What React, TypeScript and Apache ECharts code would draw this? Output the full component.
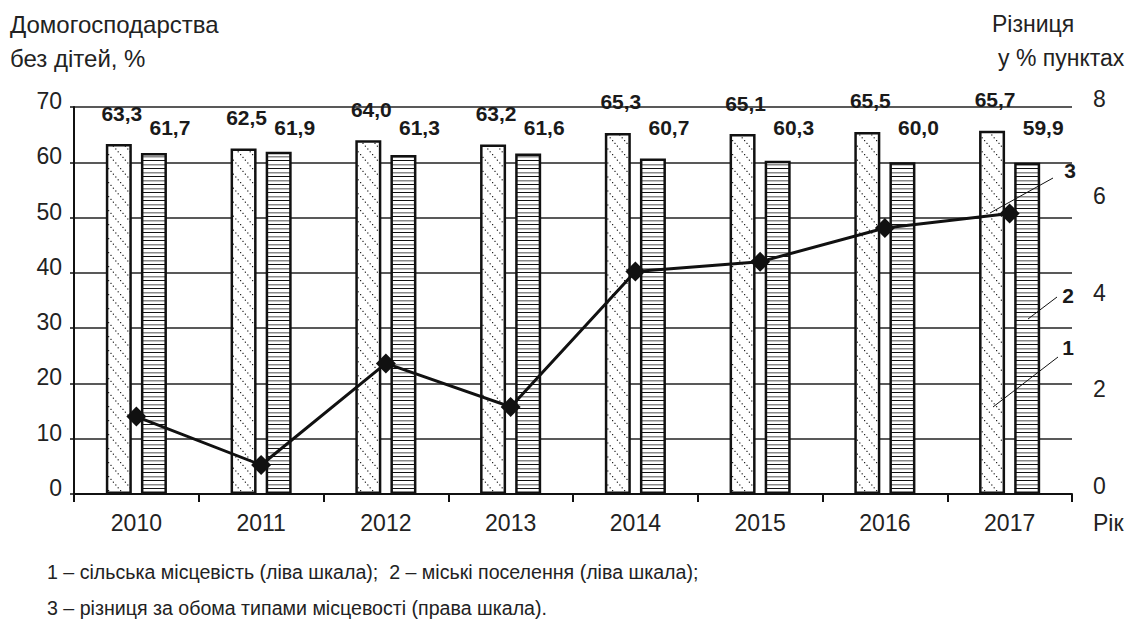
import React, { useEffect, useRef } from 'react';
import * as echarts from 'echarts';

const years = ['2010', '2011', '2012', '2013', '2014', '2015', '2016', '2017'];
const rural = [63.3, 62.5, 64.0, 63.2, 65.3, 65.1, 65.5, 65.7];
const urban = [61.7, 61.9, 61.3, 61.6, 60.7, 60.3, 60.0, 59.9];
const difference = [1.6, 0.6, 2.7, 1.8, 4.6, 4.8, 5.5, 5.8];

const titleLeft = ['Домогосподарства', 'без дітей, %'];
const titleRight = ['Різниця', 'у % пунктах'];
const xAxisName = 'Рік';
const footnote1 = '1 – сільська місцевість (ліва шкала);  2 – міські поселення (ліва шкала);';
const footnote2 = '3 – різниця за обома типами місцевості (права шкала).';

const FONT = '"Liberation Sans", Arial, sans-serif';

function makeDiagPattern(): HTMLCanvasElement {
  const w = 12;
  const h = 14;
  const c = document.createElement('canvas');
  c.width = w;
  c.height = h;
  const ctx = c.getContext('2d')!;
  ctx.fillStyle = '#fff';
  ctx.fillRect(0, 0, w, h);
  ctx.fillStyle = '#222';
  const n = 5;
  for (let k = 0; k < n; k++) ctx.fillRect((k * w) / n, (k * h) / n, 1.2, 1.2);
  return c;
}

function makeHorizPattern(): HTMLCanvasElement {
  const c = document.createElement('canvas');
  c.width = 8;
  c.height = 8;
  const ctx = c.getContext('2d')!;
  ctx.fillStyle = '#fff';
  ctx.fillRect(0, 0, 8, 8);
  ctx.fillStyle = '#111';
  ctx.fillRect(0, 0, 8, 1);
  ctx.fillStyle = '#8a8a8a';
  ctx.fillRect(0, 4, 8, 1.5);
  return c;
}

const fmt = (p: any) => Number(p.value).toFixed(1).replace('.', ',');

export default function App() {
  const ref = useRef<HTMLDivElement>(null);
  useEffect(() => {
    if (!ref.current) return;
    const chart = echarts.init(ref.current, null, { renderer: 'svg' });
    const diag = makeDiagPattern();
    const horiz = makeHorizPattern();
    const labelBase = {
      show: true,
      position: 'top',
      distance: 0,
      verticalAlign: 'middle',
      formatter: fmt,
      fontFamily: FONT,
      fontWeight: 'bold',
      fontSize: 21,
      color: '#1a1a1a',
    };
    const textStyle = (s: string, x: number, y: number, extra: any = {}) => ({
      type: 'text',
      x,
      y,
      z: 100,
      style: {
        text: s,
        fontFamily: FONT,
        fontSize: 23,
        fill: '#222',
        verticalAlign: 'middle',
        ...extra,
      },
    });
    const leader = (x1: number, y1: number, x2: number, y2: number) => ({
      type: 'line',
      z: 100,
      shape: { x1, y1, x2, y2 },
      style: { stroke: '#111', lineWidth: 1 },
    });
    chart.setOption({
      animation: false,
      backgroundColor: '#fff',
      grid: { left: 74, top: 107, width: 998, height: 387, containLabel: false },
      xAxis: {
        type: 'category',
        data: years,
        boundaryGap: true,
        axisLine: { show: true, lineStyle: { color: '#111', width: 2 } },
        axisTick: { show: true, length: 8, lineStyle: { color: '#111', width: 2 } },
        axisLabel: { fontFamily: FONT, fontSize: 23, color: '#222', margin: 17 },
        splitLine: { show: false },
      },
      yAxis: [
        {
          type: 'value',
          position: 'left',
          min: 0,
          max: 70,
          interval: 10,
          axisLine: { show: true, lineStyle: { color: '#111', width: 2 } },
          axisTick: { show: true, length: 4, lineStyle: { color: '#111', width: 1.5 } },
          axisLabel: {
            fontFamily: FONT,
            fontSize: 23,
            color: '#222',
            margin: 12,
            verticalAlign: 'bottom',
            lineHeight: 12,
          },
          splitLine: { show: true, lineStyle: { color: '#222', width: 1.5 } },
        },
        {
          type: 'value',
          position: 'right',
          min: 0,
          max: 8,
          interval: 2,
          axisLine: { show: false },
          axisTick: { show: false },
          axisLabel: {
            fontFamily: FONT,
            fontSize: 23,
            color: '#222',
            margin: 21,
            verticalAlign: 'bottom',
            lineHeight: 16,
          },
          splitLine: { show: false },
        },
      ],
      series: [
        {
          type: 'bar',
          name: '1',
          data: rural,
          yAxisIndex: 0,
          barWidth: 26,
          barGap: '35%',
          itemStyle: {
            color: { image: diag, repeat: 'repeat', imageWidth: 12, imageHeight: 14 },
            borderColor: '#111',
            borderWidth: 2.5,
          },
          label: { ...labelBase, offset: [3, -31] },
          z: 3,
        },
        {
          type: 'bar',
          name: '2',
          data: urban,
          yAxisIndex: 0,
          barWidth: 26,
          barGap: '35%',
          itemStyle: {
            color: { image: horiz, repeat: 'repeat', imageWidth: 8, imageHeight: 8 },
            borderColor: '#111',
            borderWidth: 2.5,
          },
          label: { ...labelBase, offset: [16, -26] },
          z: 3,
        },
        {
          type: 'line',
          name: '3',
          data: difference,
          yAxisIndex: 1,
          symbol: 'diamond',
          symbolSize: 20,
          lineStyle: { color: '#111', width: 3 },
          itemStyle: { color: '#111' },
          z: 10,
        },
      ],
      graphic: [
        textStyle(titleLeft[0], 10, 24, { fontSize: 24 }),
        textStyle(titleLeft[1], 10, 58, { fontSize: 24 }),
        textStyle(titleRight[0], 992, 24),
        textStyle(titleRight[1], 998, 58),
        textStyle(xAxisName, 1093, 523),
        textStyle(footnote1, 47, 572, { fontSize: 19.6 }),
        textStyle(footnote2, 47, 608, { fontSize: 19.6 }),
        textStyle('3', 1070, 170, { fontWeight: 'bold', fontSize: 21, textAlign: 'center', fill: '#1a1a1a' }),
        textStyle('2', 1068, 295, { fontWeight: 'bold', fontSize: 21, textAlign: 'center', fill: '#1a1a1a' }),
        textStyle('1', 1068, 347, { fontWeight: 'bold', fontSize: 21, textAlign: 'center', fill: '#1a1a1a' }),
        leader(1053, 178, 990, 213),
        leader(1057, 297, 1028, 319),
        leader(1058, 357, 993, 407),
      ],
    });
    // urban labels sit on a common level just under the plot top, as in the source
    const levelY = chart.convertToPixel({ yAxisIndex: 0 }, 66.3) as number;
    const urbanData = urban.map((v) => {
      const top = chart.convertToPixel({ yAxisIndex: 0 }, v) as number;
      return { value: v, label: { offset: [16, levelY - top] } };
    });
    chart.setOption({ series: [{}, { data: urbanData }, {}] });
    return () => chart.dispose();
  }, []);
  return (
    <div
      ref={ref}
      style={{ position: 'absolute', left: 0, top: 0, width: 1131, height: 622 }}
    />
  );
}
